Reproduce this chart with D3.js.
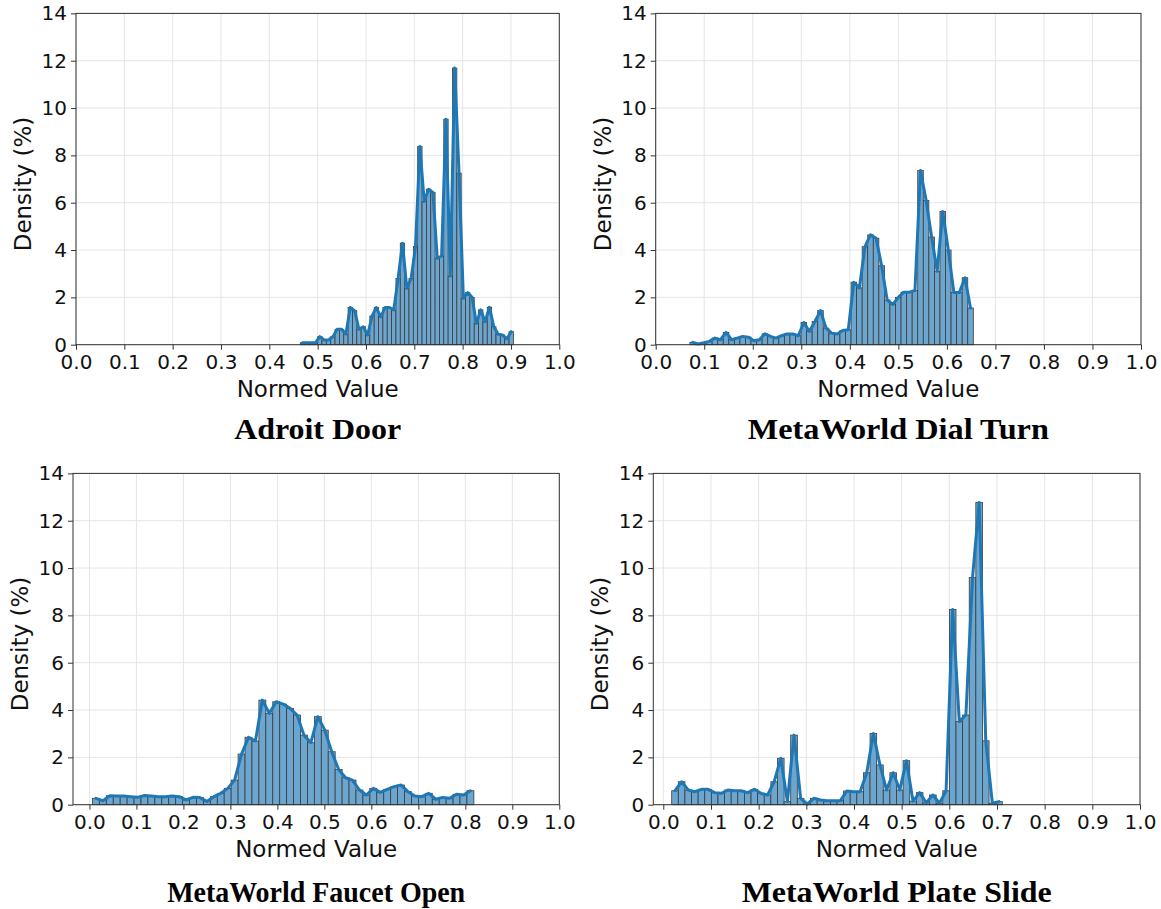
<!DOCTYPE html>
<html lang="en">
<head>
<meta charset="UTF-8">
<title>Normed value densities</title>
<script src="https://d3js.org/d3.v7.min.js"></script>
<style>
  body { margin: 0; background: #fff; }
  svg { display: block; }
</style>
</head>
<body>
<script>
// histogram heights (density, %), one array per task
const adroitDoor = [0.08,0.08,0.08,0.08,0.34,0.2,0.2,0.34,0.65,0.65,0.45,1.57,1.44,0.65,0.76,0.41,1.21,1.57,1.18,1.57,
  1.57,1.47,2.8,4.29,2.38,2.8,4.15,8.38,6.05,6.57,6.43,3.65,3.75,9.53,2.9,11.69,7.25,1.96,2.2,2.0,
  0.9,1.47,0.97,1.58,0.76,0.44,0.41,0.25,0.55];
const dialTurn = [0.1,0.03,0.08,0.14,0.28,0.21,0.52,0.21,0.28,0.35,0.32,0.17,0.21,0.46,0.35,0.28,0.38,0.45,0.45,0.38,
  0.94,0.56,0.98,1.44,0.7,0.49,0.45,0.6,0.63,2.64,2.4,4.14,4.64,4.5,3.34,1.89,1.7,2.0,2.22,2.22,
  2.29,7.36,6.1,4.55,3.1,5.63,4.0,2.21,2.21,2.83,1.55];
const faucetOpen = [0.27,0.17,0.38,0.37,0.37,0.34,0.31,0.39,0.37,0.34,0.34,0.37,0.34,0.2,0.31,0.3,0.14,0.34,0.48,0.69,
  1.04,2.14,2.85,2.69,4.42,3.86,4.35,4.25,4.07,3.79,2.94,2.62,3.72,3.15,2.24,1.49,1.14,1.04,0.62,0.41,
  0.69,0.52,0.65,0.76,0.83,0.55,0.37,0.34,0.48,0.23,0.31,0.27,0.44,0.41,0.59];
const plateSlide = [0.59,0.97,0.62,0.55,0.65,0.65,0.51,0.48,0.62,0.59,0.59,0.51,0.65,0.48,0.41,0.97,1.96,0.13,2.94,0.27,
  0.03,0.27,0.2,0.17,0.17,0.17,0.58,0.55,0.55,1.35,3.01,1.68,0.62,1.35,0.62,1.86,0.15,0.51,0.08,0.41,
  0.06,0.59,8.25,3.51,3.79,9.6,12.77,2.7,0.06,0.13];

// first bin edge and bin width for each task
const binStarts = [0.464, 0.0705, 0.0064, 0.0176];
const binWidths = [0.009, 0.01145, 0.01476, 0.01387];

const titles = ["Adroit Door", "MetaWorld Dial Turn", "MetaWorld Faucet Open", "MetaWorld Plate Slide"];
const xTicks = [0, 0.1, 0.2, 0.3, 0.4, 0.5, 0.6, 0.7, 0.8, 0.9, 1.0];
const yTicks = [0, 2, 4, 6, 8, 10, 12, 14];
const xLabel = "Normed Value";
const yLabel = "Density (%)";

const width = 1161, height = 909;
const svg = d3.select("body").append("svg")
  .attr("width", width)
  .attr("height", height);

// panel boxes in pixels
const layout = [
  {left: 76,    right: 559.3, top: 13.4,  bottom: 344.7, xMin: 0,      titleY: 439, titleW: 167},
  {left: 655.7, right: 1141,  top: 13.4,  bottom: 344.7, xMin: 0,      titleY: 439, titleW: 301},
  {left: 73,    right: 559.3, top: 473.4, bottom: 804.7, xMin: -0.035, titleY: 902, titleW: 298},
  {left: 653.3, right: 1140,  top: 473.4, bottom: 804.7, xMin: -0.021, titleY: 902, titleW: 310}
];
const series = [adroitDoor, dialTurn, faucetOpen, plateSlide];

const barFill = "rgb(108,166,206)";
const lineCol = "#1f77b4";

layout.forEach((p, k) => {
  const vals = series[k];
  const x = d3.scaleLinear().domain([p.xMin, 1]).range([p.left, p.right]);
  const y = d3.scaleLinear().domain([0, 14]).range([p.bottom, p.top]);
  const g = svg.append("g");

  // grid
  g.append("g").selectAll("line.gx").data(xTicks).join("line")
    .attr("x1", d => x(d)).attr("x2", d => x(d))
    .attr("y1", p.top).attr("y2", p.bottom)
    .attr("stroke", "#e5e5e5").attr("stroke-width", 1);
  g.append("g").selectAll("line.gy").data(yTicks).join("line")
    .attr("x1", p.left).attr("x2", p.right)
    .attr("y1", d => y(d)).attr("y2", d => y(d))
    .attr("stroke", "#e5e5e5").attr("stroke-width", 1);

  const bins = vals.map((v, i) => ({
    x0: binStarts[k] + i * binWidths[k],
    x1: binStarts[k] + (i + 1) * binWidths[k],
    v: v
  }));

  g.append("g").selectAll("rect").data(bins).join("rect")
    .attr("x", d => x(d.x0))
    .attr("width", d => x(d.x1) - x(d.x0))
    .attr("y", d => y(d.v))
    .attr("height", d => y(0) - y(d.v))
    .attr("fill", barFill)
    .attr("stroke", "#3a3a3a")
    .attr("stroke-width", 0.8);

  const line = d3.line()
    .x(d => x((d.x0 + d.x1) / 2))
    .y(d => y(d.v));
  g.append("path").datum(bins)
    .attr("d", line)
    .attr("fill", "none")
    .attr("stroke", lineCol)
    .attr("stroke-width", 3)
    .attr("stroke-linejoin", "round")
    .attr("stroke-linecap", "round");

  // frame
  g.append("rect")
    .attr("x", p.left).attr("y", p.top)
    .attr("width", p.right - p.left).attr("height", p.bottom - p.top)
    .attr("fill", "none").attr("stroke", "#333").attr("stroke-width", 1);

  const xAxis = g.append("g")
    .attr("transform", `translate(0,${p.bottom})`)
    .call(d3.axisBottom(x).tickValues(xTicks).tickFormat(d3.format(".1f"))
      .tickSizeInner(5).tickSizeOuter(0).tickPadding(5));
  const yAxis = g.append("g")
    .attr("transform", `translate(${p.left},0)`)
    .call(d3.axisLeft(y).tickValues(yTicks).tickFormat(d3.format("d"))
      .tickSizeInner(5).tickSizeOuter(0).tickPadding(4));
  [xAxis, yAxis].forEach(a => {
    a.select(".domain").remove();
    a.selectAll("line").attr("stroke", "#333");
    a.selectAll("text")
      .attr("font-family", "DejaVu Sans, sans-serif")
      .attr("font-size", 20)
      .attr("fill", "#111");
  });

  g.append("text")
    .attr("x", (p.left + p.right) / 2)
    .attr("y", p.bottom + 52)
    .attr("text-anchor", "middle")
    .attr("font-family", "DejaVu Sans, sans-serif")
    .attr("font-size", 23)
    .attr("fill", "#111")
    .text(xLabel);

  g.append("text")
    .attr("transform", `translate(${p.left - 45},${(p.top + p.bottom) / 2 + 5}) rotate(-90)`)
    .attr("text-anchor", "middle")
    .attr("font-family", "DejaVu Sans, sans-serif")
    .attr("font-size", 23)
    .attr("fill", "#111")
    .text(yLabel);

  g.append("text")
    .attr("x", (p.left + p.right) / 2)
    .attr("y", p.titleY)
    .attr("text-anchor", "middle")
    .attr("font-family", "Liberation Serif, serif")
    .attr("font-weight", "bold")
    .attr("font-size", 30)
    .attr("textLength", p.titleW)
    .attr("lengthAdjust", "spacingAndGlyphs")
    .attr("fill", "#000")
    .text(titles[k]);
});
</script>
</body>
</html>
